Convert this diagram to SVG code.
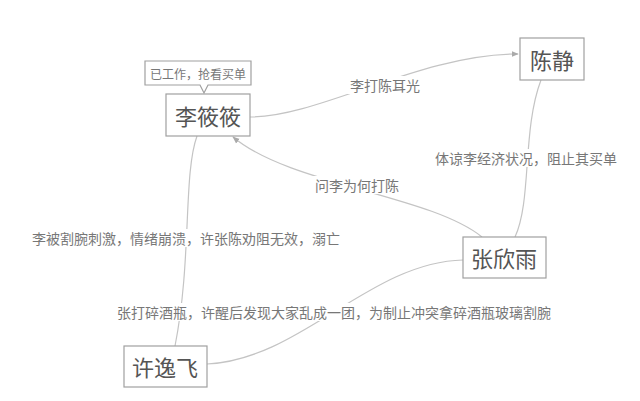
<svg xmlns="http://www.w3.org/2000/svg" width="640" height="401" viewBox="0 0 640 401">
<style>
text{font-family:"Noto Sans CJK SC","Noto Sans",sans-serif;text-anchor:middle;dominant-baseline:central}
.box{fill:#fff;stroke:#a0a0a0;stroke-width:1.2}
.nt{font-size:22px;fill:#555}
.lt{font-size:14px;fill:#777}
.ct{font-size:12px;fill:#777}
.edge{fill:none;stroke:#c4c4c4;stroke-width:1.2}
.bg{fill:#fff}
</style>
<defs>
<marker id="arr" viewBox="0 0 10 10" refX="9" refY="5" markerWidth="6" markerHeight="6" orient="auto">
<path d="M0,1 L10,5 L0,9 z" fill="#aaa"/>
</marker>
</defs>
<rect width="640" height="401" fill="#fff"/>
<g id="connectors">
<path class="edge" d="M250,117 C320,117 420,54 518,54" marker-end="url(#arr)"/>
<path class="edge" d="M541,80 C522,130 532,200 515,237"/>
<path class="edge" d="M482,237 C430,195 290,185 233,137" marker-end="url(#arr)"/>
<path class="edge" d="M197,136 C183,175 192,260 175,346"/>
<path class="edge" d="M207,364 C300,360 370,262 463,260"/>
<rect class="bg" x="346" y="76" width="78" height="18"/>
<text class="lt" x="385" y="85">李打陈耳光</text>
<rect class="bg" x="431" y="149" width="190" height="18"/>
<text class="lt" x="526" y="158">体谅李经济状况，阻止其买单</text>
<rect class="bg" x="310" y="176" width="94" height="18"/>
<text class="lt" x="357" y="185">问李为何打陈</text>
<rect class="bg" x="28" y="229" width="316" height="18"/>
<text class="lt" x="186" y="238">李被割腕刺激，情绪崩溃，许张陈劝阻无效，溺亡</text>
<rect class="bg" x="114" y="303" width="440" height="18"/>
<text class="lt" x="334" y="312">张打碎酒瓶，许醒后发现大家乱成一团，为制止冲突拿碎酒瓶玻璃割腕</text>
</g>
<g id="callout">
<path class="box" d="M145,61 H251 V85 H208 L204,93 L200,85 H145 Z"/>
<text class="ct" x="198" y="73">已工作，抢看买单</text>
</g>
<g id="n-li">
<rect class="box" x="166" y="94" width="84" height="42"/>
<text class="nt" x="208" y="115">李筱筱</text>
</g>
<g id="n-chen">
<rect class="box" x="520" y="38" width="64" height="42"/>
<text class="nt" x="552" y="59">陈静</text>
</g>
<g id="n-zhang">
<rect class="box" x="463" y="237" width="83" height="41"/>
<text class="nt" x="504" y="257">张欣雨</text>
</g>
<g id="n-xu">
<rect class="box" x="124" y="346" width="83" height="41"/>
<text class="nt" x="165" y="366">许逸飞</text>
</g>
</svg>
